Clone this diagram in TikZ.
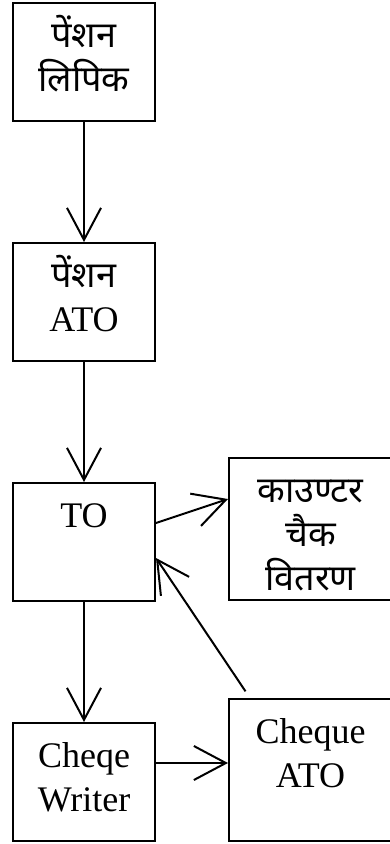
\documentclass[tikz,border=0pt]{standalone}
\usepackage{fontspec}
\setmainfont{Liberation Serif}
\newfontfamily\dev[Script=Devanagari]{Noto Sans}
\usetikzlibrary{arrows.meta}
\tikzset{
	blk/.style={draw, line width=2pt, inner sep=0pt, anchor=north west},
	flow/.style={-{Straight Barb[length=32pt, width=34pt]}, line width=2pt},
}
\newcommand{\boxtext}[3]{\parbox[t][#1][t]{#2}{\centering\fontsize{36}{44}\selectfont\rule{0pt}{44pt}#3}}

\begin{document}
\begin{tikzpicture}[x=1pt, y=-1pt]
\useasboundingbox (0,0) rectangle (389,844);

\node[blk] (lipik) at (12,2) {\boxtext{118pt}{142pt}{\dev पेंशन\\लिपिक}};
\node[blk] (pato) at (12,242) {\boxtext{118pt}{142pt}{{\dev पेंशन}\\ATO}};
\node[blk] (to) at (12,482) {\boxtext{118pt}{142pt}{TO}};
\node[blk] (counter) at (228,457) {\boxtext{142pt}{163pt}{\dev काउण्टर\\चैक\\वितरण}};
\node[blk] (writer) at (12,722) {\boxtext{118pt}{142pt}{Cheqe\\Writer}};
\node[blk] (cheqato) at (228,698) {\boxtext{142pt}{163pt}{Cheque\\ATO}};

\draw[flow] (lipik.south) -- (pato.north);
\draw[flow] (pato.south) -- (to.north);
\draw[flow] ([yshift=-41pt]to.north east) -- ([yshift=-42pt]counter.north west);
\draw[flow] (to.south) -- (writer.north);
\draw[flow] ([yshift=-41pt]writer.north east) -- ([yshift=-65pt]cheqato.north west);
\draw[flow, shorten <=8pt] ([xshift=22pt]cheqato.north west) -- ([yshift=-76pt]to.north east);
\end{tikzpicture}
\end{document}
